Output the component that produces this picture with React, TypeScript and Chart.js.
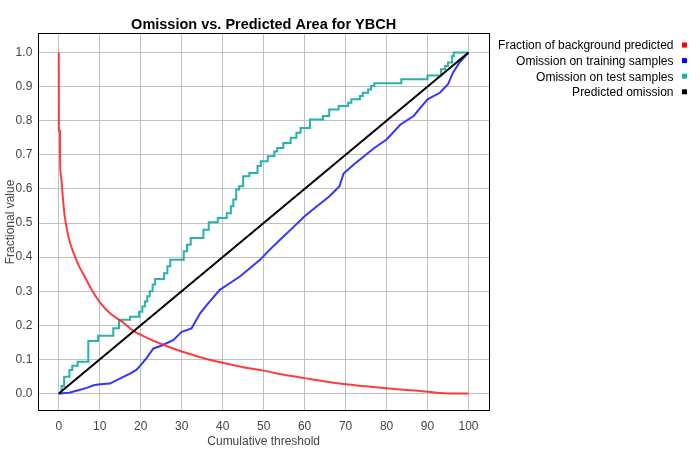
import React, { useEffect, useRef } from "react";
import { Chart, registerables } from "chart.js";

Chart.register(...registerables);

const TITLE = "Omission vs. Predicted Area for YBCH";
const X_TITLE = "Cumulative threshold";
const Y_TITLE = "Fractional value";
const LEGEND_LABELS = [
  "Fraction of background predicted",
  "Omission on training samples",
  "Omission on test samples",
  "Predicted omission",
];
const LEGEND_COLORS = ["#ff0000", "#0000ff", "#20b2aa", "#000000"];

// Fraction of background predicted (red)
const backgroundX = [0, 0.02, 0.3, 0.32, 0.56, 0.97, 1.4, 2.0, 2.8, 4.0, 5, 6, 8, 10, 12.5, 15.5, 18.3, 20, 25, 30, 35, 40, 45, 50, 55, 60, 65, 70, 75, 80, 85, 90, 93, 95, 100];
const backgroundY = [1.0, 0.771, 0.77, 0.685, 0.636, 0.577, 0.525, 0.48, 0.44, 0.4, 0.372, 0.35, 0.305, 0.268, 0.235, 0.21, 0.183, 0.172, 0.145, 0.123, 0.105, 0.09, 0.077, 0.067, 0.055, 0.045, 0.035, 0.027, 0.021, 0.015, 0.01, 0.005, 0.001, 0, 0];

// Omission on training samples (blue)
const trainX = [0, 2.5, 5, 7, 8.5, 10, 12.5, 15, 17.5, 19, 20, 21.5, 23.1, 25, 28, 30, 32.4, 34.5, 36.5, 39.3, 41.8, 44.2, 46.7, 49.1, 51.5, 54, 57, 60, 63, 66, 68.5, 69.5, 72, 74.5, 77, 80, 83.4, 86.6, 88.6, 90, 93, 95, 96.2, 97.8, 100];
const trainY = [0, 0.002, 0.01, 0.017, 0.024, 0.027, 0.029, 0.044, 0.059, 0.07, 0.083, 0.105, 0.132, 0.14, 0.157, 0.181, 0.191, 0.235, 0.265, 0.304, 0.324, 0.343, 0.368, 0.392, 0.422, 0.451, 0.485, 0.52, 0.549, 0.578, 0.608, 0.645, 0.672, 0.696, 0.72, 0.745, 0.789, 0.814, 0.843, 0.863, 0.882, 0.907, 0.941, 0.971, 1.0];

// Omission on test samples (teal, stepped)
const testX = [0, 0.7, 1.3, 2.6, 3.3, 4.6, 7.2, 9.6, 13.3, 14.7, 17.4, 19.6, 20.4, 21, 21.6, 22.2, 22.9, 23.5, 25.7, 26.5, 27.2, 30.5, 31.3, 32.2, 35.3, 36.6, 38.8, 41, 42, 42.6, 43.3, 44, 45, 46.5, 48.5, 49.3, 51, 52.6, 53.3, 54.8, 56.6, 58, 59, 61.3, 64.5, 66, 68.3, 70.6, 71.4, 73.5, 74.2, 75.5, 76.2, 77, 83.6, 90, 93.3, 94.3, 95, 96, 96.4, 100];
const testY = [0, 0.022, 0.049, 0.069, 0.081, 0.093, 0.154, 0.169, 0.191, 0.216, 0.225, 0.24, 0.255, 0.27, 0.285, 0.3, 0.32, 0.336, 0.353, 0.373, 0.392, 0.417, 0.436, 0.456, 0.48, 0.502, 0.515, 0.529, 0.549, 0.569, 0.598, 0.608, 0.637, 0.647, 0.667, 0.681, 0.696, 0.71, 0.72, 0.735, 0.75, 0.765, 0.779, 0.804, 0.814, 0.833, 0.843, 0.853, 0.863, 0.873, 0.882, 0.892, 0.902, 0.91, 0.922, 0.933, 0.951, 0.961, 0.971, 0.99, 1.0, 1.0];

// Predicted omission (black)
const predictedX = [0, 100];
const predictedY = [0, 1];

const X_TICKS = [0, 10, 20, 30, 40, 50, 60, 70, 80, 90, 100];
const Y_TICKS = [0, 0.1, 0.2, 0.3, 0.4, 0.5, 0.6, 0.7, 0.8, 0.9, 1.0];

const FONT = "'Liberation Sans', Arial, sans-serif";

const zip = (xs: number[], ys: number[]) => xs.map((x, i) => ({ x, y: ys[i] }));

const framePlugin = {
  id: "framePlugin",
  afterDraw(chart: any) {
    const { ctx, chartArea } = chart;
    ctx.save();
    ctx.strokeStyle = "#000";
    ctx.lineWidth = 1;
    ctx.strokeRect(38.5, 33.5, 451, 377);
    ctx.fillStyle = "#000";
    ctx.font = `bold 14.5px ${FONT}`;
    ctx.textAlign = "center";
    ctx.textBaseline = "middle";
    ctx.fillText(TITLE, (chartArea.left + chartArea.right) / 2, 25);
    ctx.font = `12px ${FONT}`;
    ctx.textAlign = "right";
    LEGEND_LABELS.forEach((label, i) => {
      const y = 46 + i * 15.6;
      ctx.fillStyle = "#000";
      ctx.fillText(label, 673.5, y);
      ctx.fillStyle = LEGEND_COLORS[i];
      ctx.fillRect(682, y - 3.5, 5, 5);
    });
    ctx.restore();
  },
};

export default function App() {
  const canvasRef = useRef<HTMLCanvasElement | null>(null);

  useEffect(() => {
    if (!canvasRef.current) return;
    const chart = new Chart(canvasRef.current, {
      type: "line",
      data: {
        datasets: [
          {
            label: LEGEND_LABELS[3],
            data: zip(predictedX, predictedY),
            borderColor: "#000000",
            borderWidth: 2,
            pointRadius: 0,
            order: 0,
          },
          {
            label: LEGEND_LABELS[0],
            data: zip(backgroundX, backgroundY),
            borderColor: "rgba(255,40,40,0.9)",
            borderWidth: 2,
            pointRadius: 0,
            cubicInterpolationMode: "monotone",
            order: 1,
          },
          {
            label: LEGEND_LABELS[1],
            data: zip(trainX, trainY),
            borderColor: "#3535ff",
            borderWidth: 2,
            pointRadius: 0,
            order: 2,
          },
          {
            label: LEGEND_LABELS[2],
            data: zip(testX, testY),
            borderColor: "#26b3aa",
            borderWidth: 2,
            pointRadius: 0,
            stepped: true,
            order: 3,
          },
        ],
      },
      options: {
        animation: false,
        responsive: false,
        devicePixelRatio: 1,
        layout: { padding: { top: 33.5, right: 211, left: 0, bottom: 0 } },
        plugins: {
          legend: { display: false },
          title: { display: false },
          tooltip: { enabled: false },
        },
        scales: {
          x: {
            type: "linear",
            min: -5,
            max: 105,
            afterFit: (s: any) => {
              s.height = 39.5;
            },
            afterBuildTicks: (s: any) => {
              s.ticks = X_TICKS.map((v) => ({ value: v }));
            },
            grid: { color: "#c0c0c0", drawTicks: false },
            border: { display: false },
            ticks: {
              padding: 9,
              color: "#444",
              font: { family: FONT, size: 12 },
              maxRotation: 0,
              callback: (v: any) => String(v),
            },
            title: {
              display: true,
              text: X_TITLE,
              color: "#444",
              font: { family: FONT, size: 12 },
              padding: { top: 0, bottom: 1 },
            },
          },
          y: {
            type: "linear",
            min: -0.05,
            max: 1.056,
            afterFit: (s: any) => {
              s.width = 38.3;
            },
            afterBuildTicks: (s: any) => {
              s.ticks = Y_TICKS.map((v) => ({ value: v }));
            },
            grid: { color: "#c0c0c0", drawTicks: false },
            border: { display: false },
            ticks: {
              padding: 6,
              color: "#444",
              font: { family: FONT, size: 12 },
              callback: (v: any) => Number(v).toFixed(1),
            },
            title: {
              display: true,
              text: Y_TITLE,
              color: "#444",
              font: { family: FONT, size: 12 },
              padding: { top: 3, bottom: 0 },
            },
          },
        },
      },
      plugins: [framePlugin],
    });
    return () => chart.destroy();
  }, []);

  return (
    <div style={{ position: "fixed", left: 0, top: 0, width: 700, height: 450, background: "#fff" }}>
      <canvas ref={canvasRef} width={700} height={450} style={{ width: 700, height: 450, display: "block" }} />
    </div>
  );
}
